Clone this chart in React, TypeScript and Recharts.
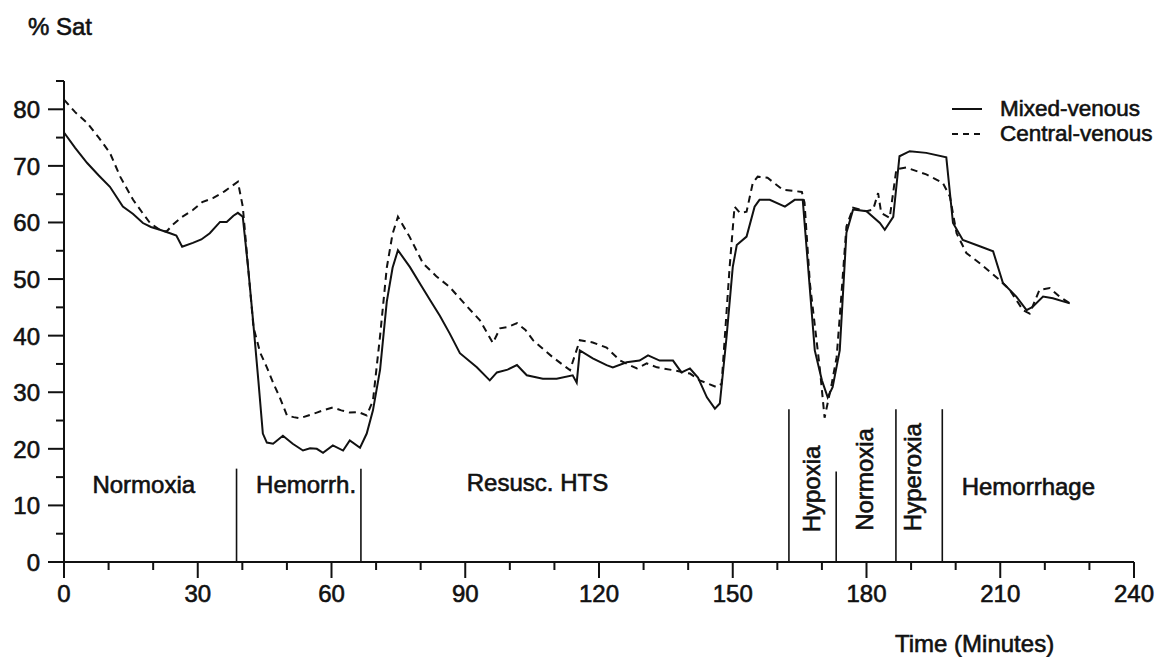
import { LineChart, Line, XAxis, YAxis, ReferenceLine, ReferenceDot, Label } from 'recharts';

// Mixed-venous saturation (solid line)
const mixedTime = [
  0, 2.5, 5.2, 7.8, 10.3, 13.2, 15.5, 17.7, 19.5, 21.5, 23.8, 25.2, 26.5, 28.9, 30.8, 32.7, 35, 36.5, 38, 39,
  40.1, 41.3, 42.4, 43.6, 44.6, 45.5, 46.9, 49.1, 51.3, 53.6, 55.2, 56.7, 58.1, 60.3, 62.6, 64.1, 66.4, 67.9,
  69.3, 70.9, 72.4, 73.7, 74.9, 77.6, 80, 82.1, 84.3, 86.5, 88.8, 92.6, 95.5, 97.1, 99.5, 101.6, 103.8, 107.4,
  110.5, 114.1, 115, 115.7, 118.6, 121.7, 123.1, 126.2, 129.1, 131, 133.6, 136.6, 138.5, 140.4, 142.2, 144.2,
  146, 147.1, 148.6, 150, 150.9, 153.1, 154.9, 156, 158.3, 161.7, 163.9, 165.7, 166.6, 168.4, 170,
  171.3, 172.4, 174, 175.5, 177, 180, 183, 184.1, 186, 187.4, 189.7, 193.4, 197.9, 199.4, 201.6, 205.4, 208.4,
  210.6, 213.6, 215.9, 217.3, 219.6, 221.8, 225.6
];
const mixedSat = [
  75.9, 73.2, 70.5, 68.3, 66.3, 62.8, 61.5, 59.9, 59.2, 58.7, 58.1, 57.7, 55.7, 56.4, 57, 58.1, 60.1, 60.1, 61.2, 61.7,
  61, 52, 42.7, 32, 22.7, 21.1, 20.9, 22.3, 20.9, 19.7, 20.1, 20, 19.3, 20.6, 19.7, 21.5, 20.2, 22.7,
  26.8, 34, 46, 52, 55.1, 52.1, 49, 46.3, 43.5, 40.4, 36.9, 34.4, 32.1, 33.5, 34, 34.8, 33, 32.4,
  32.4, 33, 31.7, 37.4, 36, 34.8, 34.4, 35.3, 35.6, 36.5, 35.6, 35.6, 33.5, 34.2, 32.6, 29.1,
  27.1, 28, 39.7, 52.1, 56, 57.5, 62.8, 64, 64, 62.8, 64, 64, 55.1, 37.4, 32.1,
  29.1, 30.9, 37.4, 58.2, 62.3, 62, 59.9, 58.7, 61, 71.7, 72.6, 72.3, 71.5, 59.9, 56.9, 55.8, 54.9,
  49.3, 46.9, 44.5, 45.1, 46.9, 46.6, 45.7
];

// Central-venous saturation (dashed line)
const centralTime = [
  0, 2.5, 5.2, 7.8, 10.3, 12.6, 15.5, 17.5, 19.3, 21.5, 23, 24.4, 26.5, 28.9, 31, 33.4, 36, 39, 40.1, 41.3,
  42.5, 44, 45.5, 47, 48.4, 50, 51.5, 52.9, 54.8, 56.7, 58.5, 60.3, 62.2, 64.1, 66, 67.9, 69.3, 70.9, 72.4,
  73.7, 74.9, 77.5, 80.5, 83.5, 86.5, 90, 93.3, 96.2, 97.8, 99.5, 101.6, 103.5, 105.2, 107.5, 109.6, 113.5,
  115.7, 118.6, 121.7, 124.7, 128.5, 130.7, 133, 136.6, 140.4, 142.6, 146.4, 147.5, 149.3, 150.4, 151.6,
  153.1, 154.5, 155.6, 157.8, 161.2, 165.5, 166.1, 167.3, 169.5, 170.6, 172.2, 173.3, 174, 175.5, 177, 180,
  181.5, 182.6, 183.3, 185.2, 186.7, 188.9, 193.4, 197.1, 198.7, 200.2, 202.4, 205.4, 209.9, 212.1, 215.1,
  216.6, 218.8, 221.1, 223.3, 225.6
];
const centralSat = [
  81.7, 79.5, 77.6, 75, 72.3, 68.1, 64, 61.8, 59.9, 58.7, 58.4, 59.6, 61, 62.2, 63.6, 64.3, 65.5, 67.2, 62.8, 52,
  41.5, 37, 34.4, 31.5, 29.1, 25.9, 25.6, 25.4, 25.9, 26.4, 26.9, 27.3, 26.8, 26.4, 26.5, 25.9, 28.5, 40, 52,
  58, 61, 57.5, 52.8, 50.5, 48.6, 45.5, 42.7, 38.7, 41.3, 41.5, 42.2, 41, 39.2, 37.6, 36.2, 33.9,
  39.2, 38.8, 37.9, 35.6, 34.2, 35.1, 34.4, 33.9, 33.3, 32.1, 30.9, 31.5, 52.1, 62.8, 61.7,
  61.9, 67, 68.1, 67.9, 65.8, 65.4, 63.5, 49.3, 34.4, 25.5, 31.5, 36.2, 43.3, 59.3, 62.6, 62,
  62.3, 65.2, 61.7, 60.8, 69.4, 69.7, 68.5, 67, 64.6, 58.1, 54.6, 52.8, 49.8, 48.1, 44.5,
  43.9, 48.1, 48.4, 46.9, 45.7
];

const xTicks = [0, 10, 20, 30, 40, 50, 60, 70, 80, 90, 100, 110, 120, 130, 140, 150, 160, 170, 180, 190, 200, 210, 220, 230, 240];
const yTicks = [0, 5, 10, 15, 20, 25, 30, 35, 40, 45, 50, 55, 60, 65, 70, 75, 80, 85];

// phase boundaries: time and height of the marker line
const phaseTime = [38.7, 66.6, 162.6, 173.2, 186.6, 197];
const phaseTop = [16.5, 16.5, 27, 16, 27, 27];

// phase labels
const phaseName = ['Normoxia', 'Hemorrh.', 'Resusc. HTS', 'Hypoxia', 'Normoxia', 'Hyperoxia', 'Hemorrhage'];
const phaseLabelX = [17.9, 54.3, 106.2, 167.6, 179.4, 190.3, 216.3];
const phaseLabelY = [13.8, 13.8, 14.2, 12.9, 14.6, 15, 13.5];
const phaseVertical = [false, false, false, true, true, true, false];

const mixed = mixedTime.map((t, i) => ({ t, v: mixedSat[i] }));
const central = centralTime.map((t, i) => ({ t, v: centralSat[i] }));

const FONT = '"Liberation Sans", Arial, sans-serif';
const INK = '#111';

const textStyle = { fontFamily: FONT, fontSize: 24, fill: INK, stroke: INK, strokeWidth: 0.6 };

const XTick = ({ x, y, payload }: any) => {
  const major = payload.value % 30 === 0;
  return (
    <g>
      <line x1={x} x2={x} y1={y} y2={y + (major ? 16 : 8)} stroke={INK} strokeWidth={2} />
      {major && (
        <text x={x} y={y + 40} textAnchor="middle" style={textStyle}>
          {payload.value}
        </text>
      )}
    </g>
  );
};

const YTick = ({ x, y, payload }: any) => {
  const major = payload.value % 10 === 0;
  return (
    <g>
      <line x1={x} x2={x - (major ? 16 : 8)} y1={y} y2={y} stroke={INK} strokeWidth={2} />
      {major && (
        <text x={x - 24} y={y + 9} textAnchor="end" style={textStyle}>
          {payload.value}
        </text>
      )}
    </g>
  );
};

const PhaseText = (name: string, vertical: boolean) => (p: any) => {
  const { cx, cy } = p;
  if (vertical) {
    return (
      <text x={cx} y={cy + 9} textAnchor="middle" transform={`rotate(-90 ${cx} ${cy})`} style={textStyle}>
        {name}
      </text>
    );
  }
  return (
    <text x={cx} y={cy + 9} textAnchor="middle" style={textStyle}>
      {name}
    </text>
  );
};

const LegendRow = ({ dashed, label }: { dashed: boolean; label: string }) => (
  <div style={{ display: 'flex', alignItems: 'center', height: 25 }}>
    <svg width={52} height={10}>
      <line x1={4} x2={34} y1={5} y2={5} stroke={INK} strokeWidth={2} strokeDasharray={dashed ? '6 5' : undefined} />
    </svg>
    <span style={{ fontFamily: FONT, fontSize: 22.5, color: INK, WebkitTextStroke: '0.6px #111', lineHeight: '25px' }}>
      {label}
    </span>
  </div>
);

export default function App() {
  return (
    <div style={{ position: 'fixed', left: 0, top: 0, width: 1158, height: 657, background: '#fff' }}>
      <LineChart width={1158} height={657} margin={{ top: 81, right: 24, left: 0, bottom: 55 }}>
        <XAxis
          type="number"
          dataKey="t"
          domain={[0, 240]}
          ticks={xTicks}
          interval={0}
          height={40}
          tickSize={0}
          tickMargin={0}
          tick={<XTick />}
          axisLine={{ stroke: INK, strokeWidth: 2 }}
        >
          <Label
            content={({ viewBox }: any) => (
              <text x={895} y={viewBox.y + 90} style={textStyle}>
                Time (Minutes)
              </text>
            )}
          />
        </XAxis>
        <YAxis
          type="number"
          domain={[0, 85]}
          ticks={yTicks}
          interval={0}
          width={64}
          tickSize={0}
          tickMargin={0}
          tick={<YTick />}
          axisLine={{ stroke: INK, strokeWidth: 2 }}
        >
          <Label
            content={({ viewBox }: any) => (
              <text x={28} y={viewBox.y - 46} style={textStyle}>
                % Sat
              </text>
            )}
          />
        </YAxis>
        {phaseTime.map((t, i) => (
          <ReferenceLine
            key={`pl-${i}`}
            segment={[{ x: t, y: 0 }, { x: t, y: phaseTop[i] }]}
            stroke={INK}
            strokeWidth={1.6}
          />
        ))}
        {phaseName.map((name, i) => (
          <ReferenceDot
            key={`pn-${i}`}
            x={phaseLabelX[i]}
            y={phaseLabelY[i]}
            r={0}
            shape={PhaseText(name, phaseVertical[i])}
          />
        ))}
        <Line
          data={central}
          dataKey="v"
          type="linear"
          stroke={INK}
          strokeWidth={2}
          strokeDasharray="7 5"
          dot={false}
          isAnimationActive={false}
        />
        <Line
          data={mixed}
          dataKey="v"
          type="linear"
          stroke={INK}
          strokeWidth={2}
          dot={false}
          isAnimationActive={false}
        />
      </LineChart>
      <div style={{ position: 'absolute', left: 948, top: 96 }}>
        <LegendRow dashed={false} label="Mixed-venous" />
        <LegendRow dashed={true} label="Central-venous" />
      </div>
    </div>
  );
}
